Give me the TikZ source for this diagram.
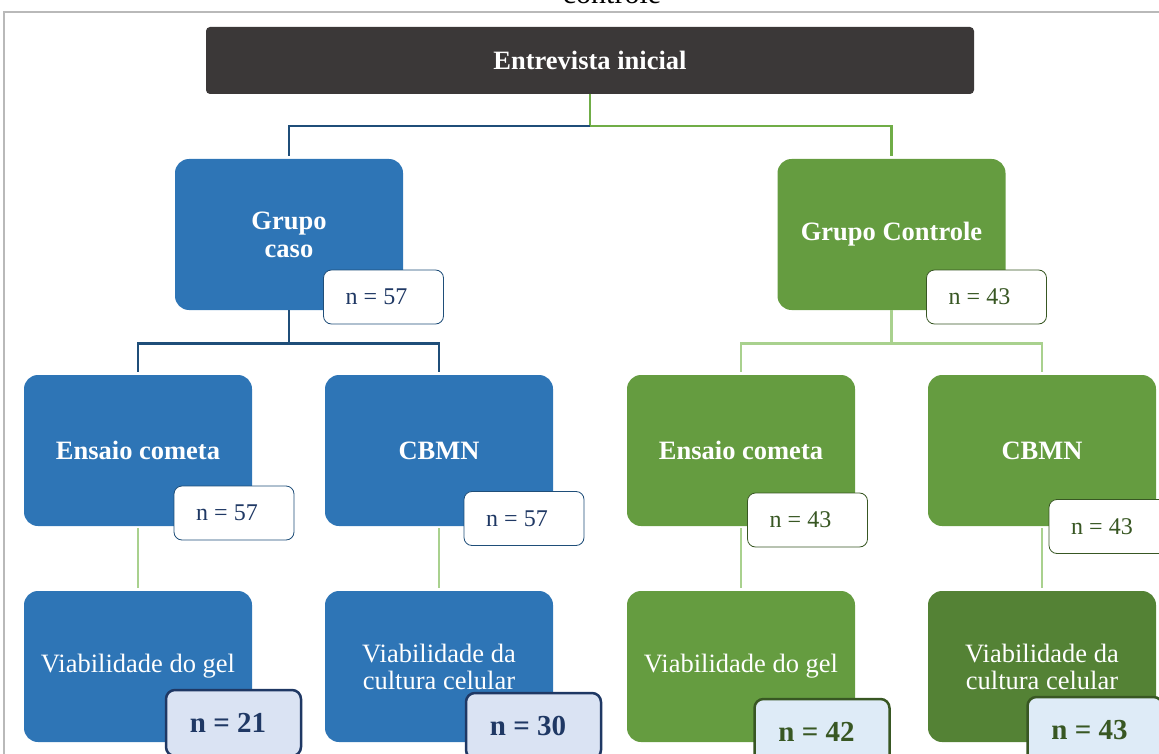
\documentclass[tikz,border=0pt]{standalone}
\usepackage{fontspec}
\setmainfont{Liberation Serif}
\usetikzlibrary{positioning}
\definecolor{topgray}{RGB}{59,56,56}
\definecolor{caseblue}{RGB}{46,117,182}
\definecolor{ctrlgreen}{RGB}{101,156,64}
\definecolor{darkgreen}{RGB}{84,130,53}
\definecolor{navy}{RGB}{31,78,121}
\definecolor{navytext}{RGB}{31,56,100}
\definecolor{greentext}{RGB}{56,87,35}
\definecolor{midgreen}{RGB}{112,173,71}
\definecolor{lightgreen}{RGB}{169,209,142}
\definecolor{paleblue}{RGB}{218,227,243}
\definecolor{paleblue2}{RGB}{222,235,247}

\begin{document}
\begin{tikzpicture}[x=1pt, y=-1pt,
  box/.style={rounded corners=14pt, minimum width=228pt, minimum height=151pt, align=center, text=white, inner sep=2pt},
  casebox/.style={box, fill=caseblue},
  ctrlbox/.style={box, fill=ctrlgreen},
  titlefont/.style={font=\bfseries\fontsize{26.5}{28}\selectfont},
  plainfont/.style={font=\fontsize{26.5}{27}\selectfont},
  nbox/.style={draw, fill=white, rounded corners=8pt, minimum width=120pt, minimum height=54pt, line width=0.8pt, font=\fontsize{24}{28}\selectfont, execute at end node={\kern14pt}},
  ncase/.style={nbox, draw=navy, text=navytext},
  nctrl/.style={nbox, draw=greentext, text=greentext},
  ntotal/.style={draw, rounded corners=9pt, minimum width=135pt, minimum height=66pt, line width=2.5pt, font=\bfseries\fontsize{29}{32}\selectfont, execute at end node={\kern11pt}},
  navyline/.style={draw=navy, line width=2.8pt},
  greenline/.style={draw=midgreen, line width=2.8pt},
  paleline/.style={draw=lightgreen, line width=2.8pt}]
\useasboundingbox (0,0) rectangle (1159,754);
% page frame and cut caption
\draw[gray!55, line width=1.2pt] (4,760) -- (4,12) -- (1165,12);
\node[anchor=base, font=\fontsize{30}{32}\selectfont] (caption) at (612,4) {controle};

\node[fill=topgray, rounded corners=4pt, minimum width=768pt, minimum height=67pt, text=white, titlefont] (inicial) at (590,60.5) {Entrevista inicial};

\node[casebox, titlefont] (caso) at (289,234.5) {Grupo\\caso};
\node[ctrlbox, titlefont] (controle) at (891.5,234.5) {Grupo Controle};
\node[ncase] (ncaso) at (383.5,297) {n = 57};
\node[nctrl] (ncontrole) at (986.5,297) {n = 43};

\node[casebox, titlefont] (cometa1) at (138,450.5) {Ensaio cometa};
\node[casebox, titlefont] (cbmn1) at (439,450.5) {CBMN};
\node[ctrlbox, titlefont] (cometa2) at (741,450.5) {Ensaio cometa};
\node[ctrlbox, titlefont] (cbmn2) at (1042,450.5) {CBMN};
\node[ncase] (ncometa1) at (234,513) {n = 57};
\node[ncase] (ncbmn1) at (524,518.5) {n = 57};
\node[nctrl] (ncometa2) at (807.5,520) {n = 43};
\node[nctrl] (ncbmn2) at (1109,526.5) {n = 43};

\node[casebox, plainfont] (gel1) at (138,666.5) {Viabilidade do gel};
\node[casebox, plainfont] (cultura1) at (439,666.5) {Viabilidade da\\cultura celular};
\node[ctrlbox, plainfont] (gel2) at (741,666.5) {Viabilidade do gel};
\node[box, fill=darkgreen, plainfont] (cultura2) at (1042,666.5) {Viabilidade da\\cultura celular};
\node[ntotal, fill=paleblue, draw=navytext, text=navytext] (ngel1) at (233.5,723) {n = 21};
\node[ntotal, fill=paleblue, draw=navytext, text=navytext] (ncultura1) at (533.5,726) {n = 30};
\node[ntotal, fill=paleblue2, draw=greentext, text=greentext] (ngel2) at (822,732) {n = 42};
\node[ntotal, fill=paleblue2, draw=greentext, text=greentext] (ncultura2) at (1095,730) {n = 43};

% connectors
\coordinate (split) at (590,126);
\draw[greenline, shorten >=3pt] (inicial.south) -- (split) -| (controle.north);
\draw[navyline, shorten >=3pt] (split) -| (caso.north);
\draw[navyline, shorten >=3pt] (caso.south) -- ++(0,33) coordinate (casosplit) -| (cometa1.north);
\draw[navyline, shorten >=3pt] (casosplit) -| (cbmn1.north);
\draw[paleline, shorten >=3pt] (controle.south) -- ++(0,33) coordinate (ctrlsplit) -| (cometa2.north);
\draw[paleline, shorten >=3pt] (ctrlsplit) -| (cbmn2.north);
\draw[paleline, shorten <=2pt, shorten >=3pt] (cometa1) -- (gel1);
\draw[paleline, shorten <=2pt, shorten >=3pt] (cbmn1) -- (cultura1);
\draw[paleline, shorten <=2pt, shorten >=3pt] (cometa2) -- (gel2);
\draw[paleline, shorten <=2pt, shorten >=3pt] (cbmn2) -- (cultura2);
\end{tikzpicture}
\end{document}
